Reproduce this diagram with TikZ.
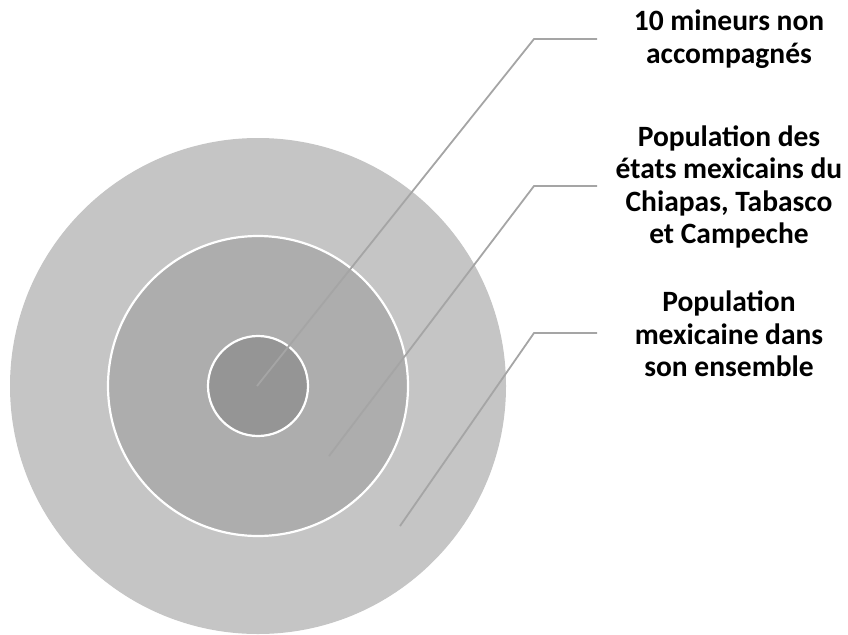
\documentclass[tikz,border=0pt]{standalone}
\usepackage{fontspec}
\setmainfont{Carlito}
\definecolor{ringA}{HTML}{C5C5C5}
\definecolor{ringB}{HTML}{ADADAD}
\definecolor{ringC}{HTML}{959595}
\definecolor{lineg}{HTML}{A5A5A5}
\begin{document}
\begin{tikzpicture}[x=1pt,y=-1pt,
  ring/.style={circle, inner sep=0pt, draw=white, line width=2.2pt},
  conn/.style={draw=lineg, line width=1.8pt},
  lbl/.style={font=\fontsize{29.5}{32.5}\selectfont\bfseries, align=center, text=black, inner sep=0pt}]
\useasboundingbox (0,0) rectangle (848,634);
\node[circle, inner sep=0pt, minimum size=496pt, fill=ringA] (outer) at (258,386) {};
\node[ring, minimum size=300pt, fill=ringB] (middle) at (258,386) {};
\node[ring, minimum size=100pt, fill=ringC] (inner) at (258,386) {};
\coordinate (s1) at (257,386);
\coordinate (k1) at (534,39);
\coordinate (e1) at (597,39);
\coordinate (s2) at (329,456);
\coordinate (k2) at (534,186);
\coordinate (e2) at (597,186);
\coordinate (s3) at (400,526);
\coordinate (k3) at (534,333);
\coordinate (e3) at (597,333);
\draw[conn] (s1) -- (k1) -- (e1);
\draw[conn] (s2) -- (k2) -- (e2);
\draw[conn] (s3) -- (k3) -- (e3);
\node[lbl] (t1) at (729,39) {10 mineurs non\\accompagnés};
\node[lbl] (t2) at (729,187) {Population des\\états mexicains du\\Chiapas, Tabasco\\et Campeche};
\node[lbl] (t3) at (729,334) {Population\\mexicaine dans\\son ensemble};
\end{tikzpicture}
\end{document}
